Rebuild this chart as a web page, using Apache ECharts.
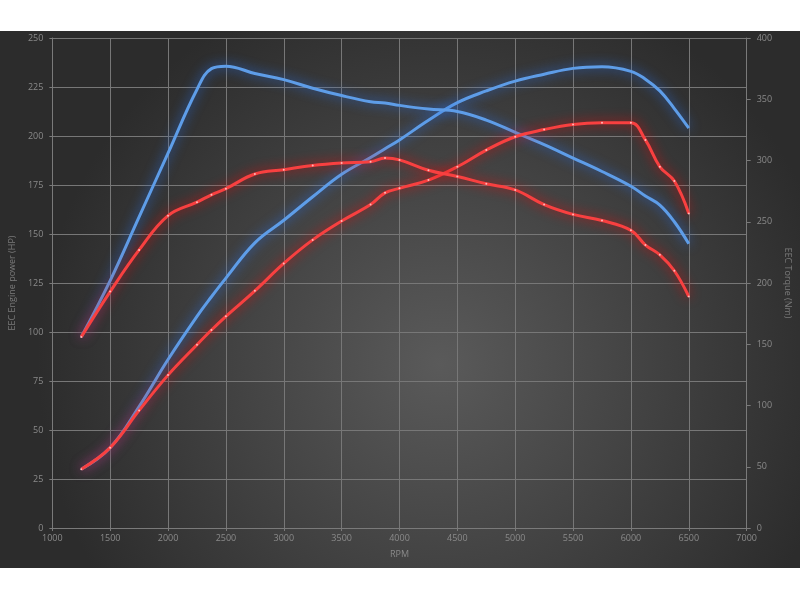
<!DOCTYPE html>
<html>
<head>
<meta charset="utf-8">
<script src="https://cdn.jsdelivr.net/npm/echarts@6/dist/echarts.min.js"></script>
<style>
html,body{margin:0;padding:0;background:#fff;}
#chart{width:800px;height:600px;}
</style>
</head>
<body>
<div id="chart"></div>
<script>
var rpm = [1250,1500,1750,2000,2250,2375,2500,2750,3000,3250,3500,3750,3875,4000,4250,4500,4750,5000,5250,5500,5750,6000,6125,6250,6375,6500];
var bluePower = [30,41,62,86,108,118,127.5,145.5,157,169,180.5,189,193.5,198,208,217,223,228,231.5,234.5,235.3,233,229,223,214,204];
var blueTorque = [156,202,254,306,358,375,377,371,366,359,353,348,347,345,342,340,333,323,313,302,291,279,271,263.6,250,232];
var redPower = [30,41,60,78,93.5,101,108,121,135,147,156.6,165,171,173.3,177.5,184.3,192.8,199.6,203.3,205.9,206.7,206.7,198,184.3,177,160.5];
var redTorque = [156,193,227,255,266,272,277,289,292.5,296,298,299,302,300.5,292,287,281,276,264,256,251,243,231,223,210,189];
var xTicks = {min:1000,max:7000,interval:500};
var hpTicks = {min:0,max:250,interval:25};
var nmTicks = {min:0,max:400,interval:50};

function pairs(vals){ return rpm.map(function(r,i){ return [r, vals[i]]; }); }

var BLUE = '#5e9de8', BLUE_GLOW = 'rgba(40,110,225,1)';
var RED = '#f84040', RED_GLOW = 'rgba(225,10,10,1)';

function line(name, vals, yIdx, col, glow, sym){
  return {
    name: name, type: 'line', yAxisIndex: yIdx, data: pairs(vals),
    smooth: 0.4, showSymbol: sym, symbol: 'circle', symbolSize: 2,
    itemStyle: {color: sym ? '#ffb8b8' : col},
    lineStyle: {color: col, width: 3, shadowBlur: 12, shadowColor: glow},
    emphasis: {disabled: true}, z: 3, animation: false
  };
}

function plain(v){ return String(v); }
var lbl = {color:'#8a8a8a', fontSize:9, fontFamily:'Open Sans', formatter: plain};
var chart = echarts.init(document.getElementById('chart'), null, {renderer:'canvas'});
chart.setOption({
  backgroundColor: '#ffffff',
  animation: false,
  graphic: [{
    type: 'rect', z: -10, silent: true,
    shape: {x: 0, y: 31, width: 800, height: 537},
    style: {fill: new echarts.graphic.RadialGradient(0.55, 0.62, 0.75, [
      {offset: 0, color: '#5a5a5a'},
      {offset: 1, color: '#2c2c2c'}
    ])}
  }],
  grid: {left: 50, right: 51, top: 38, bottom: 72, containLabel: false},
  xAxis: {
    type: 'value', min: xTicks.min, max: xTicks.max, interval: xTicks.interval,
    name: 'RPM', nameLocation: 'middle', nameGap: 22,
    nameTextStyle: {color:'#8a8a8a', fontSize:9, fontFamily:'Open Sans'},
    axisLine: {show: true, lineStyle: {color: '#7a7a7a'}},
    axisTick: {show: true, length: 3, lineStyle: {color: '#7a7a7a'}},
    axisLabel: Object.assign({margin: 6}, lbl),
    splitLine: {show: true, lineStyle: {color: '#777', width: 1}}
  },
  yAxis: [{
    type: 'value', min: hpTicks.min, max: hpTicks.max, interval: hpTicks.interval,
    name: 'EEC Engine power (HP)', nameLocation: 'middle', nameGap: 32,
    nameTextStyle: {color:'#7a7a7a', fontSize:9, fontFamily:'Open Sans'},
    axisLine: {show: true, lineStyle: {color: '#7a7a7a'}},
    axisTick: {show: true, length: 3, lineStyle: {color: '#7a7a7a'}},
    axisLabel: Object.assign({margin: 9}, lbl),
    splitLine: {show: true, lineStyle: {color: '#777', width: 1}}
  },{
    type: 'value', position: 'right', min: nmTicks.min, max: nmTicks.max, interval: nmTicks.interval,
    name: 'EEC Torque (Nm)', nameLocation: 'middle', nameGap: 33, nameRotate: -90,
    nameTextStyle: {color:'#7a7a7a', fontSize:9, fontFamily:'Open Sans'},
    axisLine: {show: true, lineStyle: {color: '#7a7a7a'}},
    axisTick: {show: true, length: 4, lineStyle: {color: '#7a7a7a'}},
    axisLabel: Object.assign({margin: 10}, lbl),
    splitLine: {show: false}
  }],
  series: [
    line('Blue power', bluePower, 0, BLUE, BLUE_GLOW, false),
    line('Blue torque', blueTorque, 1, BLUE, BLUE_GLOW, false),
    line('Red power', redPower, 0, RED, RED_GLOW, true),
    line('Red torque', redTorque, 1, RED, RED_GLOW, true)
  ]
});
</script>
</body>
</html>
